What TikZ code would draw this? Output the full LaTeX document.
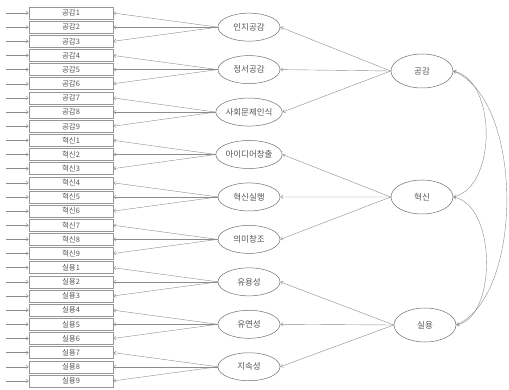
\documentclass[tikz,border=0pt]{standalone}
\usepackage{fontspec}
\setmainfont{Noto Sans CJK KR}
\usetikzlibrary{shapes.geometric,arrows.meta}
\definecolor{lncol}{RGB}{140,140,140}
\definecolor{boxcol}{RGB}{150,150,150}
\definecolor{ellcol}{RGB}{110,110,110}
\definecolor{txtcol}{RGB}{85,85,85}
\begin{document}
\begin{tikzpicture}[x=1pt,y=-1pt,
  ln/.style={draw=lncol, line width=0.4pt},
  arr/.style={ln, -{Straight Barb[length=2.5pt,width=3.5pt]}},
  arrtwo/.style={ln, {Straight Barb[length=2.5pt,width=3.5pt]}-{Straight Barb[length=2.5pt,width=3.5pt]}},
  obs/.style={draw=boxcol, line width=0.5pt, minimum width=84pt, minimum height=12pt, inner sep=0pt, font=\fontsize{7.5}{8}\selectfont, text=txtcol},
  lat/.style={ellipse, draw=ellcol, line width=0.5pt, minimum width=62pt, minimum height=28pt, inner sep=0pt, font=\fontsize{8.5}{9}\selectfont, text=txtcol},
  lattwo/.style={lat, minimum width=62pt, minimum height=34pt}]
\useasboundingbox (0,0) rectangle (509,390);
\foreach \g [count=\gi from 0] in {공감,혁신,실용}{
  \foreach \i in {1,...,9}{
    \pgfmathtruncatemacro\n{9*\gi+\i}
    \pgfmathsetmacro\yy{13+(\n-1)*14.15}
    \node[obs] (b\n) at (71,\yy) {\g\i};
    \coordinate (s\n) at (6,\yy);
    \draw[arr] (s\n) -- (b\n);
  }
}
\foreach \lab [count=\k] in {인지공감,정서공감,사회문제인식,아이디어창출,혁신실행,의미창조,유용성,유연성,지속성}{
  \pgfmathsetmacro\yy{13+(3*\k-2)*14.15}
  \node[lat] (f\k) at (249,\yy) {\lab};
  \foreach \j in {0,1,2}{
    \pgfmathtruncatemacro\n{3*\k-2+\j}
    \draw[arr] (f\k.west) -- (b\n.east);
  }
}
\node[lattwo] (S1) at (422,71) {공감};
\node[lattwo] (S2) at (422,197) {혁신};
\node[lattwo] (S3) at (425,325) {실용};
\foreach \s/\a/\b/\c in {1/1/2/3, 2/4/5/6, 3/7/8/9}{
  \draw[arr] (S\s.west) -- (f\a.east);
  \draw[arr] (S\s.west) -- (f\b.east);
  \draw[arr] (S\s.west) -- (f\c.east);
}
\draw[arrtwo] (S1.east) .. controls (497,80) and (497,187) .. (S2.east);
\draw[arrtwo] (S2.east) .. controls (497,205) and (497,318) .. (S3.east);
\draw[arrtwo] (S1.east) .. controls (524,100) and (524,295) .. (S3.east);
\end{tikzpicture}
\end{document}
